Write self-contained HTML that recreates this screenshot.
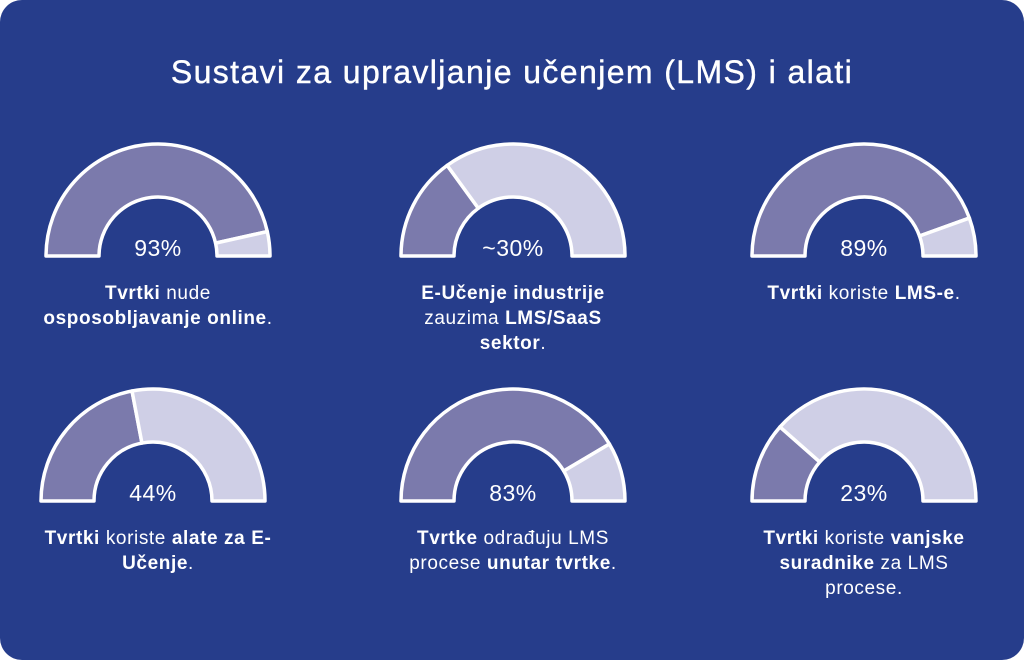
<!DOCTYPE html>
<html><head><meta charset="utf-8"><style>
html,body{margin:0;padding:0;background:#fff;}
#card{position:absolute;left:0;top:0;width:1024px;height:660px;background:#263d8b;border-radius:22px;overflow:hidden;font-family:"Liberation Sans",sans-serif;color:#fff;}
#title{position:absolute;left:0;width:1024px;top:54px;text-align:center;font-size:32px;letter-spacing:1.4px;font-weight:500;-webkit-text-stroke:0.4px #fff;}
.lab{position:absolute;width:340px;text-align:center;font-size:19px;letter-spacing:0.6px;line-height:25px;}
.lab b{font-weight:700;}
svg{position:absolute;left:0;top:0;}
</style></head><body>
<div id="card">
<div id="title">Sustavi za upravljanje učenjem (LMS) i alati</div>
<svg id="g" width="1024" height="660"></svg>
<div class="lab" style="left:-12px;top:281px"><b>Tvrtki</b> nude<br><b>osposobljavanje online</b>.</div>
<div class="lab" style="left:343px;top:281px"><b>E-Učenje industrije</b><br>zauzima <b>LMS/SaaS</b><br><b>sektor</b>.</div>
<div class="lab" style="left:694px;top:281px"><b>Tvrtki</b> koriste <b>LMS-e</b>.</div>
<div class="lab" style="left:-12px;top:526px"><b>Tvrtki</b> koriste <b>alate za E-<br>Učenje</b>.</div>
<div class="lab" style="left:343px;top:526px"><b>Tvrtke</b> odrađuju LMS<br>procese <b>unutar tvrtke</b>.</div>
<div class="lab" style="left:694px;top:526px"><b>Tvrtki</b> koriste <b>vanjske<br>suradnike</b> za LMS<br>procese.</div>
</div>
<script>
const values=[93,30,89,44,83,23];
const valueLabels=["93%","~30%","89%","44%","83%","23%"];
const cxs=[158,513,864,153,513,864];
const cys=[256,256,256,501,501,501];
const RO=112,RI=59;
const svg=document.getElementById('g');
const NS='http://www.w3.org/2000/svg';
function pt(cx,cy,r,a){return [cx-r*Math.cos(a),cy-r*Math.sin(a)];}
function seg(cx,cy,a0,a1){
 const p1=pt(cx,cy,RO,a0),p2=pt(cx,cy,RO,a1),p3=pt(cx,cy,RI,a1),p4=pt(cx,cy,RI,a0);
 return `M${p1[0]},${p1[1]} A${RO},${RO} 0 0 1 ${p2[0]},${p2[1]} L${p3[0]},${p3[1]} A${RI},${RI} 0 0 0 ${p4[0]},${p4[1]} Z`;
}
values.forEach((v,i)=>{
 const a=Math.PI*v/100;
 const d=document.createElementNS(NS,'path');
 d.setAttribute('d',seg(cxs[i],cys[i],0,a));
 d.setAttribute('fill','#7b7aac');d.setAttribute('stroke','#fff');d.setAttribute('stroke-width','3.5');d.setAttribute('stroke-linejoin','round');
 
 
 svg.appendChild(d);
 const l=document.createElementNS(NS,'path');
 l.setAttribute('d',seg(cxs[i],cys[i],a,Math.PI));
 l.setAttribute('fill','#cfcfe6');l.setAttribute('stroke','#fff');l.setAttribute('stroke-width','3.5');l.setAttribute('stroke-linejoin','round');
 
 
 svg.appendChild(l);
 const t=document.createElementNS(NS,'text');
 t.setAttribute('x',cxs[i]);t.setAttribute('y',cys[i]);t.setAttribute('text-anchor','middle');
 t.setAttribute('fill','#fff');t.setAttribute('font-size','23');t.setAttribute('letter-spacing','0.5');t.setAttribute('font-family','Liberation Sans, sans-serif');
 t.textContent=valueLabels[i];
 
 
 svg.appendChild(t);
});
</script>
</body></html>
